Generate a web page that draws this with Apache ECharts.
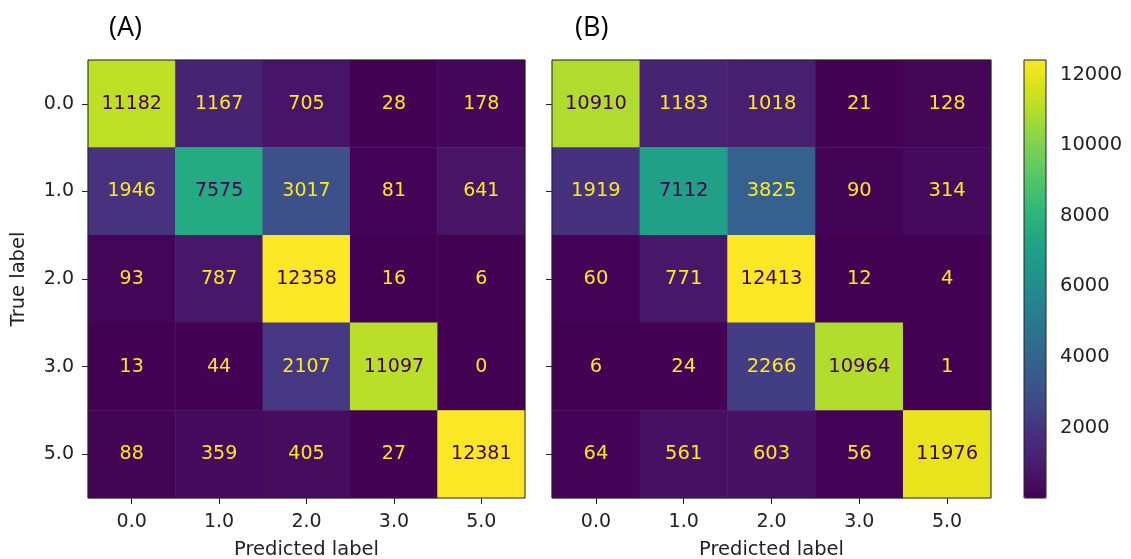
<!DOCTYPE html>
<html>
<head>
<meta charset="utf-8">
<title>Confusion matrices</title>
<script src="https://cdn.jsdelivr.net/npm/echarts@6/dist/echarts.min.js"></script>
<style>
  html, body { margin: 0; padding: 0; background: #fff; }
  #chart { width: 1131px; height: 559px; }
</style>
</head>
<body>
<div id="chart"></div>
<script>
// Class labels shared by both axes of each matrix
const classLabels = ['0.0', '1.0', '2.0', '3.0', '5.0'];

// Confusion matrix (A): rows = true label, columns = predicted label
const matrixA = [
  [11182, 1167, 705, 28, 178],
  [1946, 7575, 3017, 81, 641],
  [93, 787, 12358, 16, 6],
  [13, 44, 2107, 11097, 0],
  [88, 359, 405, 27, 12381]
];

// Confusion matrix (B)
const matrixB = [
  [10910, 1183, 1018, 21, 128],
  [1919, 7112, 3825, 90, 314],
  [60, 771, 12413, 12, 4],
  [6, 24, 2266, 10964, 1],
  [64, 561, 603, 56, 11976]
];

// Colorbar tick labels
const colorbarTicks = [2000, 4000, 6000, 8000, 10000, 12000];

// Viridis colour ramp
const viridis = [
  '#440154', '#471365', '#482475', '#472f7d', '#414487', '#3b528b',
  '#355f8d', '#2f6c8e', '#2a788e', '#25848e', '#21918c', '#1e9c89',
  '#22a884', '#2fb47c', '#44bf70', '#5ec962', '#7ad151', '#9bd93c',
  '#bddf26', '#dfe318', '#fde725'
];

const FONT = 'DejaVu Sans';
const TICK_COLOR = '#222';

function toCells(m) {
  const out = [];
  m.forEach((row, r) => row.forEach((v, c) => out.push([c, r, v])));
  return out;
}
function extent(m) {
  const flat = m.flat();
  return [Math.min(...flat), Math.max(...flat)];
}
const [minA, maxA] = extent(matrixA);
const [minB, maxB] = extent(matrixB);

// Cell annotations: dark text on bright cells, yellow text on dark cells
function cellLabel(threshold, size) {
  return {
    show: true,
    fontFamily: FONT,
    fontSize: size,
    formatter: p => (p.value[2] > threshold ? '{dk|' : '{lt|') + p.value[2] + '}',
    rich: {
      dk: { color: '#440154', fontFamily: FONT, fontSize: size },
      lt: { color: '#fde725', fontFamily: FONT, fontSize: size }
    }
  };
}

function catX(gridIndex) {
  return {
    type: 'category', gridIndex, data: classLabels, position: 'bottom',
    axisLine: { show: false },
    axisTick: { show: true, alignWithLabel: true, length: 6, lineStyle: { color: TICK_COLOR } },
    axisLabel: { fontFamily: FONT, fontSize: 19, color: TICK_COLOR, margin: 15 },
    splitLine: { show: false }, splitArea: { show: false },
    name: 'Predicted label', nameLocation: 'middle', nameGap: 42,
    nameTextStyle: { fontFamily: FONT, fontSize: 19.5, color: TICK_COLOR }
  };
}
function catY(gridIndex, withLabels) {
  const ax = {
    type: 'category', gridIndex, data: classLabels, inverse: true,
    axisLine: { show: false },
    axisTick: { show: true, alignWithLabel: true, length: 6, lineStyle: { color: TICK_COLOR } },
    axisLabel: { show: withLabels, fontFamily: FONT, fontSize: 19, color: TICK_COLOR, margin: 14 },
    splitLine: { show: false }, splitArea: { show: false }
  };
  if (withLabels) {
    ax.name = 'True label';
    ax.nameLocation = 'middle';
    ax.nameRotate = 90;
    ax.nameGap = 59;
    ax.nameTextStyle = { fontFamily: FONT, fontSize: 19.5, color: TICK_COLOR };
  }
  return ax;
}

const gridBase = {
  show: true, z: 5, outerBoundsMode: 'none', containLabel: false,
  backgroundColor: 'transparent', borderColor: '#222', borderWidth: 1
};

const chart = echarts.init(document.getElementById('chart'), null, { renderer: 'canvas' });

chart.setOption({
  animation: false,
  backgroundColor: '#fff',
  title: [
    { text: '(A)', left: 109, top: 15, padding: 0,
      textStyle: { fontFamily: 'Open Sans', fontSize: 27, fontWeight: 'normal', color: '#000' } },
    { text: '(B)', left: 575, top: 15, padding: 0,
      textStyle: { fontFamily: 'Open Sans', fontSize: 27, fontWeight: 'normal', color: '#000' } }
  ],
  grid: [
    Object.assign({}, gridBase, { left: 88, top: 60, width: 437, height: 438 }),
    Object.assign({}, gridBase, { left: 552, top: 60, width: 439, height: 438 }),
    Object.assign({}, gridBase, { left: 1024, top: 60, width: 22, height: 438, z: 10 })
  ],
  xAxis: [
    catX(0),
    catX(1),
    { type: 'value', gridIndex: 2, show: false }
  ],
  yAxis: [
    catY(0, true),
    catY(1, false),
    {
      type: 'value', gridIndex: 2, position: 'right', min: minB, max: maxB,
      axisLine: { show: false },
      splitLine: { show: false },
      axisTick: { show: true, length: 6, customValues: colorbarTicks, lineStyle: { color: TICK_COLOR } },
      axisLabel: { customValues: colorbarTicks, formatter: v => String(v),
        fontFamily: FONT, fontSize: 19.5, color: TICK_COLOR, margin: 14 }
    }
  ],
  visualMap: [
    { type: 'continuous', seriesIndex: 0, min: minA, max: maxA, show: false,
      inRange: { color: viridis } },
    { type: 'continuous', seriesIndex: 1, min: minB, max: maxB, show: true,
      calculable: false, orient: 'vertical', left: 1024, top: 60, padding: 0,
      itemWidth: 22, itemHeight: 438, text: null, hoverLink: false,
      inRange: { color: viridis } }
  ],
  series: [
    {
      type: 'heatmap', xAxisIndex: 0, yAxisIndex: 0, data: toCells(matrixA),
      label: cellLabel((minA + maxA) / 2, 19),
      emphasis: { disabled: true }
    },
    {
      type: 'heatmap', xAxisIndex: 1, yAxisIndex: 1, data: toCells(matrixB),
      label: cellLabel((minB + maxB) / 2, 19.5),
      emphasis: { disabled: true }
    }
  ]
});
</script>
</body>
</html>
